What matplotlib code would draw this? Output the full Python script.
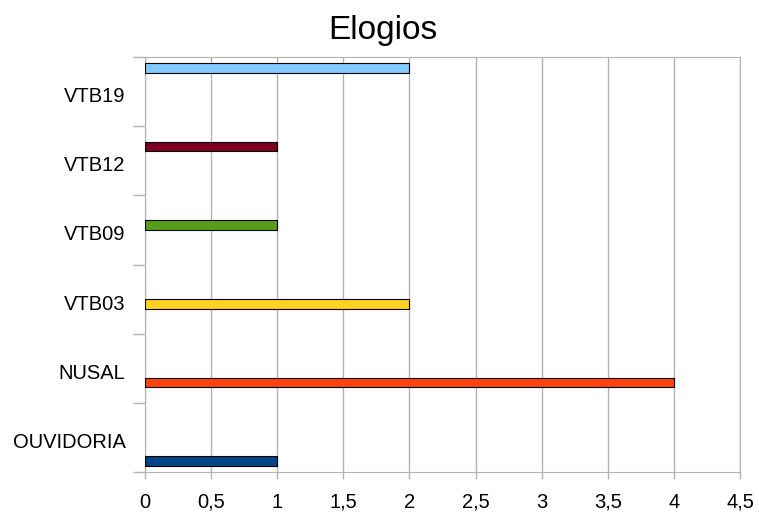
import matplotlib.pyplot as plt
import numpy as np
from matplotlib.ticker import FixedLocator, FuncFormatter
from matplotlib.transforms import ScaledTranslation

categories = ['OUVIDORIA', 'NUSAL', 'VTB03', 'VTB09', 'VTB12', 'VTB19']
values = [1, 4, 2, 1, 1, 2]
colors = ['#004586', '#ff420e', '#ffd320', '#579d1c', '#7e0021', '#83caff']

plt.rcParams['font.family'] = ['Liberation Sans', 'DejaVu Sans']

fig = plt.figure(figsize=(7.59, 5.16), dpi=100)
ax = fig.add_axes([145 / 759, 44 / 516, 595 / 759, 415 / 516])

n = len(categories)
h = 0.82 / n
pos = np.arange(n)
# each category is its own series, so the bar sits at its series slot
for i, (v, c) in enumerate(zip(values, colors)):
    ax.barh(pos[i] + (i - (n - 1) / 2) * h, v, height=h, color=c,
            edgecolor='black', linewidth=0.8, zorder=3)

ax.set_xlim(0, 4.5)
ax.set_ylim(-0.5, n - 0.5)
ax.set_xticks(np.arange(0, 4.51, 0.5))
ax.xaxis.set_major_formatter(FuncFormatter(lambda x, p: ('%g' % x).replace('.', ',')))
ax.set_yticks(pos)
ax.set_yticklabels(categories)
ax.yaxis.set_minor_locator(FixedLocator(np.arange(-0.5, n, 1)))

ax.tick_params(axis='y', which='major', length=0, pad=14, labelsize=14.5)
ax.tick_params(axis='y', which='minor', length=9, color='#b3b3b3', width=1)
ax.tick_params(axis='x', length=5, color='#b3b3b3', width=1, pad=10, labelsize=14.5)

# labels sit a little below the band centres in the original
for lab in ax.get_yticklabels():
    lab.set_transform(lab.get_transform() + ScaledTranslation(0, -3 / 100, fig.dpi_scale_trans))

ax.grid(axis='x', color='#b3b3b3', linewidth=1, zorder=0)
for s in ax.spines.values():
    s.set_color('#b3b3b3')

fig.text(0.505, 0.94, 'Elogios', ha='center', va='center', fontsize=24)

fig.savefig('out.png', dpi=100)
